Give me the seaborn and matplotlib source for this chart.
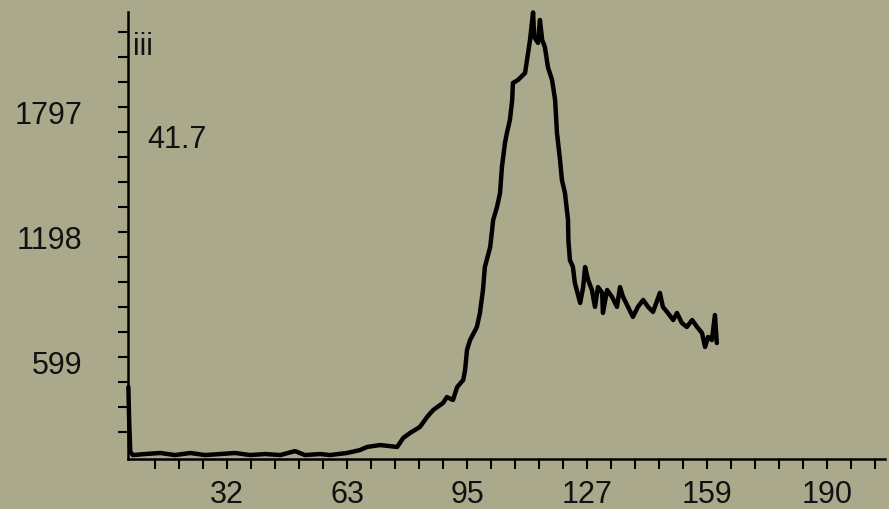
import numpy as np
import pandas as pd
import matplotlib
matplotlib.use("Agg")
import matplotlib.pyplot as plt
import matplotlib.transforms as mtransforms
import seaborn as sns

# ---- data ----
x_vals = [6.0, 6.2, 6.5, 7.2, 10.4, 14.4, 18.3, 22.3, 26.2, 30.2, 34.1, 38.1, 42.0, 46.0,
          49.9, 52.5, 56.5, 59.1, 63.6, 67.0, 68.9, 72.3, 76.8, 78.4, 80.2, 82.8, 84.7,
          86.3, 88.9, 89.9, 91.5, 92.6, 94.2, 94.7, 95.2, 96.0, 97.8, 98.6, 99.4, 99.9,
          101.3, 102.1, 103.1, 103.9, 104.4, 105.2, 105.7, 106.5, 107.1, 107.3, 108.6,
          110.5, 111.0, 111.8, 112.6, 112.9, 113.9, 114.4, 115.0, 115.7, 116.5, 117.6,
          118.4, 118.9, 119.7, 120.2, 121.0, 121.8, 121.9, 122.3, 123.1, 123.6, 125.0,
          125.8, 126.3, 127.1, 128.1, 128.9, 129.7, 130.8, 131.0, 132.1, 133.4, 134.7,
          135.5, 136.3, 137.6, 138.9, 140.2, 141.6, 142.9, 144.2, 146.0, 146.8, 148.1,
          149.5, 150.5, 151.8, 153.1, 154.5, 155.8, 157.1, 157.9, 158.7, 159.7, 160.5,
          161.0]
y_vals = [455, 297, 144, 129, 134, 139, 129, 139, 129, 134, 139, 129, 134, 129,
          148, 129, 134, 129, 139, 153, 168, 177, 168, 211, 235, 264, 312,
          345, 379, 407, 393, 455, 489, 537, 633, 680, 743, 810, 920, 1030,
          1126, 1256, 1318, 1385, 1510, 1625, 1672, 1735, 1831, 1912, 1926,
          1960, 2022, 2118, 2250, 2132, 2104, 2214, 2118, 2085, 1989, 1926,
          1831, 1672, 1543, 1447, 1385, 1256, 1160, 1064, 1030, 954, 858,
          934, 1030, 968, 920, 839, 934, 906, 810, 920, 887, 839,
          934, 887, 839, 791, 839, 872, 839, 815, 906, 839, 810,
          776, 810, 762, 743, 776, 743, 714, 647, 695, 680, 800,
          666]

x_tick_labels = ["32", "63", "95", "127", "159", "190"]
y_tick_labels = ["599", "1198", "1797"]
corner_label = "iii"
value_label = "41.7"

# ---- style ----
bg = "#aaa98c"
sns.set_style("ticks")
plt.rcParams["font.family"] = ["Liberation Sans", "DejaVu Sans"]

fig = plt.figure(figsize=(8.89, 5.09), dpi=100, facecolor=bg)
ax = fig.add_axes([128 / 889, 1 - 459 / 509, (885 - 128) / 889, (459 - 12) / 509])
ax.set_facecolor(bg)

df = pd.DataFrame({"x": x_vals, "y": y_vals})
sns.lineplot(data=df, x="x", y="y", sort=False, estimator=None, color="black",
             linewidth=3.2, ax=ax, clip_on=False)

ax.set_xlim(5.9, 205.3)
ax.set_ylim(110.2, 2252)

# ticks: x every 6.32 units, labelled every 5th
x_step = 6.32
xt = 32 + x_step * np.arange(-3, 28)
xl = []
for k in range(-3, 28):
    if k >= 0 and k % 5 == 0 and k // 5 < len(x_tick_labels):
        xl.append(x_tick_labels[k // 5])
    else:
        xl.append("")
ax.set_xticks(xt)
ax.set_xticklabels(xl)

y_step = 119.8
yt = 599 - 3 * y_step + y_step * np.arange(0, 17)
yl = []
for k in range(17):
    j = k - 3
    if j >= 0 and j % 5 == 0 and j // 5 < len(y_tick_labels):
        yl.append(y_tick_labels[j // 5])
    else:
        yl.append("")
ax.set_yticks(yt)
ax.set_yticklabels(yl)

for s in ["top", "right"]:
    ax.spines[s].set_visible(False)
for s in ["left", "bottom"]:
    ax.spines[s].set_color("black")
    ax.spines[s].set_linewidth(1.8)

ax.tick_params(axis="x", direction="out", length=7, width=1.5, color="black",
               labelsize=22, pad=8, labelcolor="#111111")
ax.tick_params(axis="y", direction="out", length=7, width=1.5, color="black",
               labelsize=22, pad=26, labelcolor="#111111")

offset = mtransforms.ScaledTranslation(0, -6 / 100, fig.dpi_scale_trans)
for lab in ax.get_yticklabels():
    lab.set_transform(lab.get_transform() + offset)

ax.set_xlabel("")
ax.set_ylabel("")

fig.text(133 / 889, 1 - 32 / 509, corner_label, fontsize=22, color="#111111",
         ha="left", va="top")
fig.text(147 / 889, 1 - 125 / 509, value_label, fontsize=22, color="#111111",
         ha="left", va="top")

fig.savefig("out.png", dpi=100, facecolor=bg)
